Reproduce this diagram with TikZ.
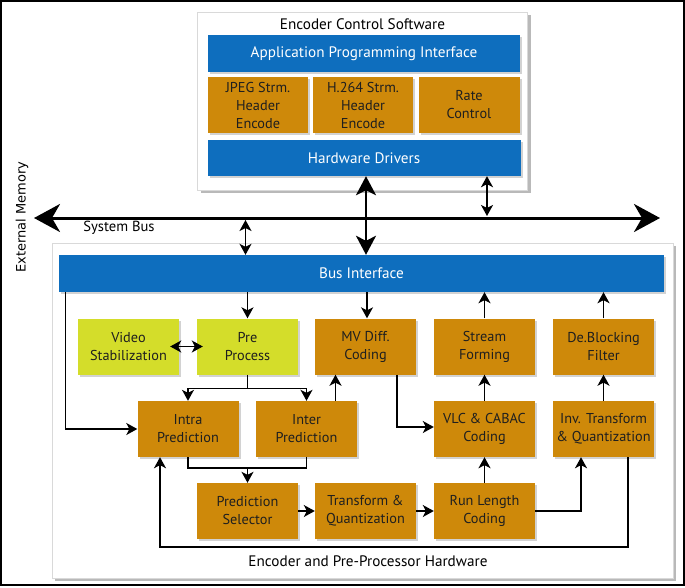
\documentclass[tikz,border=0pt]{standalone}
\usepackage{fontspec}
\setmainfont{PT Sans}
\newfontfamily\sidefont{DejaVu Sans}
\usetikzlibrary{arrows.meta,shadows}
\definecolor{ifblue}{RGB}{14,110,190}
\definecolor{blockorange}{RGB}{206,137,10}
\definecolor{prelime}{RGB}{212,221,42}

\begin{document}
\begin{tikzpicture}[x=1pt, y=-1pt, >={Stealth[length=11pt,width=12pt,inset=3pt]},
		font=\fontsize{14.3}{18}\selectfont,
		blk/.style={rectangle, minimum width=101pt, minimum height=56pt, inner sep=1pt, align=center,
			fill=blockorange, text=black!88, drop shadow={shadow xshift=2pt, shadow yshift=-2pt, opacity=0.35}},
		preblk/.style={blk, fill=prelime},
		ifbar/.style={blk, fill=ifblue, text=white, minimum height=37pt, font=\fontsize{15.2}{18}\selectfont},
		outerbox/.style={fill=white, draw=black!15, drop shadow={shadow xshift=3pt, shadow yshift=-3pt, opacity=0.55}},
		boxtitle/.style={font=\fontsize{15.2}{18}\selectfont},
		link/.style={line width=1.5pt},
		sysbus/.style={line width=3pt, {Stealth[length=26pt,width=28pt,inset=8pt]}-{Stealth[length=26pt,width=28pt,inset=8pt]}},
		mainbus/.style={line width=2.5pt, {Stealth[length=19pt,width=20pt,inset=5pt]}-{Stealth[length=19pt,width=20pt,inset=5pt]}}]
		\useasboundingbox (0,0) rectangle (685,587);
		%\draw [thin, help lines, step=50] (0,0) grid (685,587);
		\fill [white] (0,0) rectangle (685,587);
		\draw [line width=2pt] (1,1) rectangle (684,585);

		% software side
		\draw [outerbox] (197.5,12) rectangle (527.5,190);
		\node [boxtitle] (swtitle) at (362.5,24) {Encoder Control Software};
		\node [ifbar, minimum width=312pt] (api) at (364,53.5) {Application Programming Interface};
		\node [blk, minimum width=100pt] (jpeg) at (258,105) {JPEG Strm.\\Header\\Encode};
		\node [blk, minimum width=100pt] (h264) at (363,105) {H.264 Strm.\\Header\\Encode};
		\node [blk, minimum width=101pt] (rate) at (469,105) {Rate\\Control};
		\node [ifbar, minimum width=313pt, minimum height=36pt] (drivers) at (364,158) {Hardware Drivers};

		% system bus
		\coordinate (sbW) at (34,218);
		\coordinate (sbE) at (660,218);
		\coordinate (sbR) at (487,216);
		\coordinate (sbL) at (245.5,220);
		\draw [sysbus] (sbW) -- (sbE);
		\node [font=\fontsize{14.6}{18}\selectfont] (sbtext) at (119,228) {System Bus};
		\node [rotate=90, font=\sidefont\fontsize{13}{15}\selectfont] (extmem) at (22,217) {External Memory};

		% hardware side
		\draw [outerbox] (52,243) rectangle (673,578);
		\node [ifbar, minimum width=605pt] (busif) at (361.5,273.5) {Bus Interface};
		\node [preblk] (vstab) at (128.5,346.5) {Video\\Stabilization};
		\node [preblk] (pre) at (247.5,346.5) {Pre\\Process};
		\node [blk] (mv) at (365.5,346.5) {MV Diff.\\Coding};
		\node [blk] (sform) at (484.5,346.5) {Stream\\Forming};
		\node [blk] (deblock) at (603.5,346.5) {De.Blocking\\Filter};
		\node [blk] (intra) at (188,429) {Intra\\Prediction};
		\node [blk] (inter) at (306.5,429) {Inter\\Prediction};
		\node [blk] (vlc) at (484.5,429) {VLC \& CABAC\\Coding};
		\node [blk] (inv) at (603.5,429) {Inv. Transform\\\& Quantization};
		\node [blk] (predsel) at (247.5,511) {Prediction\\Selector};
		\node [blk] (trans) at (365.5,511) {Transform \&\\Quantization};
		\node [blk] (rlc) at (484.5,511) {Run Length\\Coding};
		\node [boxtitle] (hwtitle) at (368,561) {Encoder and Pre-Processor Hardware};

		% bus connections
		\draw [mainbus] ([xshift=2pt]drivers.south) -- ([xshift=4.5pt]busif.north);
		\draw [link, <->] (drivers.south -| sbR) -- (sbR);
		\draw [link, <->] (sbL) -- (busif.north -| sbL);

		% data flow
		\draw [link, ->] (busif.south -| pre.north) -- (pre.north);
		\draw [link, ->] ([xshift=1.5pt]busif.south -| mv.north) -- ([xshift=1.5pt]mv.north);
		\draw [link, ->] (sform.north) -- (busif.south -| sform.north);
		\draw [link, ->] (deblock.north) -- (busif.south -| deblock.north);
		\draw [link, ->] ([xshift=6.5pt]busif.south west) |- (intra.west);
		\draw [link, <->] ([xshift=-9pt]vstab.east) -- ([xshift=6pt]pre.west);
		\draw [link] (pre.south) -- ++(0,14) coordinate (ppsplit);
		\draw [link, ->] (ppsplit) -| (intra.north);
		\draw [link, ->] (ppsplit) -| (inter.north);
		\coordinate (intermv) at ([xshift=29pt]inter.north);
		\draw [link, ->] (intermv) -- (intermv |- mv.south);
		\draw [link, ->] ([xshift=31.5pt]mv.south) |- ([yshift=2pt]vlc.west);
		\draw [link, ->] (vlc.north) -- (sform.south);
		\draw [link] (intra.south) -- ++(0,11) coordinate (psjoin) -| (inter.south);
		\draw [link, ->] (psjoin -| predsel.north) -- (predsel.north);
		\draw [link, ->] (predsel.east) -- (trans.west);
		\draw [link, ->] (trans.east) -- (rlc.west);
		\draw [link, ->] (rlc.north) -- (vlc.south);
		\draw [link, ->] (rlc.east) -| ([xshift=-22.5pt]inv.south);
		\draw [link, ->] (inv.north) -- (deblock.south);
		\draw [link, ->] ([xshift=24.5pt]inv.south) -- ++(0,90) -| ([xshift=-28pt]intra.south);
	\end{tikzpicture}
\end{document}
